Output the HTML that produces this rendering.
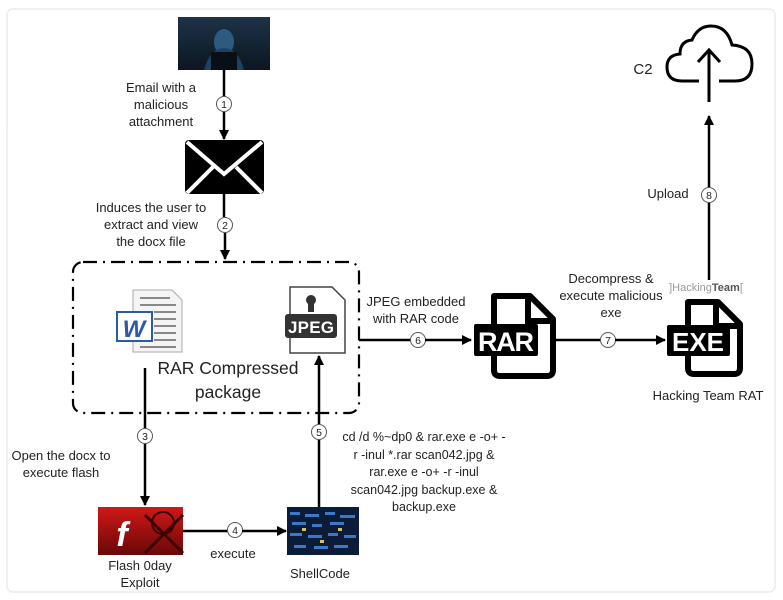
<!DOCTYPE html>
<html><head><meta charset="utf-8"><style>
html,body{margin:0;padding:0;background:#fff;}
svg{display:block;}
text{font-family:"Liberation Sans",sans-serif;fill:#222;}
</style></head><body>
<svg width="783" height="600" viewBox="0 0 783 600" xmlns="http://www.w3.org/2000/svg">
<defs>
<marker id="ah" markerWidth="10" markerHeight="10" refX="9" refY="5" orient="auto" markerUnits="userSpaceOnUse">
<path d="M0,0 L10,5 L0,10 z" fill="#000"/></marker>
<linearGradient id="hk" x1="0" y1="0" x2="0" y2="1"><stop offset="0" stop-color="#1d3348"/><stop offset="1" stop-color="#0b1620"/></linearGradient>
<linearGradient id="fl" x1="0" y1="0" x2="0" y2="1"><stop offset="0" stop-color="#d01818"/><stop offset="1" stop-color="#6a0808"/></linearGradient>
</defs>
<rect x="7" y="9" width="768" height="583" rx="6" fill="#fff" stroke="#ececec" stroke-width="1.5"/>

<!-- hacker -->
<rect x="178" y="17" width="92" height="53" fill="url(#hk)"/>
<ellipse cx="224" cy="42" rx="10" ry="13" fill="#2e5a80"/>
<path d="M204 70 Q210 48 224 48 Q238 48 244 70z" fill="#1e4264"/>
<rect x="211" y="52" width="26" height="18" fill="#0a0f14"/>

<line x1="224" y1="70" x2="224" y2="96" stroke="#000" stroke-width="2.5"/>
<circle cx="224" cy="104" r="7.5" fill="#fff" stroke="#555"/><text x="224" y="108" font-size="10.5" text-anchor="middle">1</text>
<line x1="224" y1="112" x2="224" y2="139" stroke="#000" stroke-width="2.5" marker-end="url(#ah)"/>
<text font-size="13" text-anchor="middle"><tspan x="161" y="92">Email with a</tspan><tspan x="161" y="109">malicious</tspan><tspan x="161" y="126">attachment</tspan></text>

<!-- envelope -->
<rect x="185" y="140" width="79" height="54" rx="4" fill="#000"/>
<path d="M187 142 L224 174 L262 142" fill="none" stroke="#fff" stroke-width="4"/>
<path d="M187 193 L213 167 M262 193 L236 167" stroke="#fff" stroke-width="4"/>

<line x1="224" y1="194" x2="224" y2="217" stroke="#000" stroke-width="2.5"/>
<circle cx="225" cy="225" r="7.5" fill="#fff" stroke="#555"/><text x="225" y="229" font-size="10.5" text-anchor="middle">2</text>
<line x1="225" y1="233" x2="225" y2="259" stroke="#000" stroke-width="2.5" marker-end="url(#ah)"/>
<text font-size="13" text-anchor="middle"><tspan x="151" y="212">Induces the user to</tspan><tspan x="151" y="229">extract and view</tspan><tspan x="151" y="246">the docx file</tspan></text>

<!-- dashed box -->
<rect x="73" y="262" width="286" height="151" rx="10" fill="none" stroke="#000" stroke-width="2.2" stroke-dasharray="14,6,2,6"/>

<!-- word -->
<path d="M133 290 L172 290 L182 300 L182 352 L133 352z" fill="#f4f4f4" stroke="#aaa"/>
<g stroke="#888" stroke-width="2"><line x1="140" y1="298" x2="170" y2="298"/><line x1="140" y1="305" x2="176" y2="305"/><line x1="154" y1="312" x2="176" y2="312"/><line x1="154" y1="319" x2="176" y2="319"/><line x1="154" y1="326" x2="176" y2="326"/><line x1="154" y1="333" x2="176" y2="333"/><line x1="154" y1="340" x2="176" y2="340"/><line x1="140" y1="347" x2="176" y2="347"/></g>
<rect x="117" y="312" width="35" height="29" fill="#fff" stroke="#2b5aa8" stroke-width="2"/>
<text x="134" y="337" font-size="24" font-weight="bold" font-style="italic" text-anchor="middle" style="fill:#2b5aa8">W</text>

<!-- jpeg -->
<path d="M290 287 L332 287 L345 300 L345 353 L290 353z" fill="#fff" stroke="#444" stroke-width="1.5"/>
<circle cx="311" cy="300" r="5" fill="#333"/><rect x="308" y="304" width="6" height="8" fill="#333"/>
<rect x="285" y="314" width="52" height="24" rx="3" fill="#333"/>
<text x="311" y="333" font-size="17" font-weight="bold" text-anchor="middle" style="fill:#fff" textLength="46">JPEG</text>

<text font-size="17.5" text-anchor="middle"><tspan x="228" y="374">RAR Compressed</tspan><tspan x="228" y="398">package</tspan></text>

<!-- 3 -->
<line x1="145" y1="368" x2="145" y2="428" stroke="#000" stroke-width="2.5"/>
<circle cx="145" cy="436" r="7.5" fill="#fff" stroke="#555"/><text x="145" y="440" font-size="10.5" text-anchor="middle">3</text>
<line x1="145" y1="444" x2="145" y2="505" stroke="#000" stroke-width="2.5" marker-end="url(#ah)"/>
<text font-size="13" text-anchor="middle"><tspan x="61" y="460">Open the docx to</tspan><tspan x="61" y="477">execute flash</tspan></text>

<!-- flash -->
<rect x="98" y="507" width="85" height="48" fill="url(#fl)"/>
<text x="122" y="546" font-size="34" font-style="italic" font-weight="bold" text-anchor="middle" style="fill:#fff">f</text>
<circle cx="163" cy="523" r="11" fill="none" stroke="#3a0000" stroke-width="2"/>
<path d="M145 515 L183 553 M183 515 L145 553" stroke="#3a0000" stroke-width="3"/>
<text font-size="13" text-anchor="middle"><tspan x="140" y="570">Flash 0day</tspan><tspan x="140" y="587">Exploit</tspan></text>

<!-- 4 -->
<line x1="183" y1="531" x2="228" y2="531" stroke="#000" stroke-width="2.5"/>
<circle cx="235" cy="530" r="7.5" fill="#fff" stroke="#555"/><text x="235" y="534" font-size="10.5" text-anchor="middle">4</text>
<line x1="242" y1="531" x2="286" y2="531" stroke="#000" stroke-width="2.5" marker-end="url(#ah)"/>
<text x="233" y="558" font-size="13" text-anchor="middle">execute</text>

<!-- shellcode -->
<rect x="287" y="507" width="72" height="48" fill="#0c1c38"/>
<g fill="#3a78c8"><rect x="290" y="512" width="10" height="3"/><rect x="305" y="514" width="14" height="3"/><rect x="325" y="512" width="10" height="3"/><rect x="340" y="515" width="15" height="3"/><rect x="292" y="522" width="14" height="3"/><rect x="312" y="524" width="10" height="3"/><rect x="330" y="522" width="14" height="3"/><rect x="290" y="533" width="12" height="3"/><rect x="308" y="535" width="14" height="3"/><rect x="328" y="533" width="10" height="3"/><rect x="344" y="535" width="12" height="3"/><rect x="294" y="545" width="12" height="3"/><rect x="314" y="546" width="14" height="3"/><rect x="334" y="545" width="14" height="3"/></g>
<g fill="#d8c060"><rect x="302" y="528" width="4" height="3"/><rect x="338" y="528" width="4" height="3"/><rect x="320" y="540" width="4" height="3"/></g>
<text x="320" y="578" font-size="13" text-anchor="middle">ShellCode</text>

<!-- 5 -->
<line x1="319" y1="507" x2="319" y2="440" stroke="#000" stroke-width="2.5"/>
<circle cx="319" cy="432" r="7.5" fill="#fff" stroke="#555"/><text x="319" y="436" font-size="10.5" text-anchor="middle">5</text>
<line x1="319" y1="424" x2="319" y2="356" stroke="#000" stroke-width="2.5" marker-end="url(#ah)"/>
<text font-size="12.5" text-anchor="middle"><tspan x="424" y="441">cd /d %~dp0 &amp; rar.exe e -o+ -</tspan><tspan x="424" y="459">r -inul *.rar scan042.jpg &amp;</tspan><tspan x="424" y="476">rar.exe e -o+ -r -inul</tspan><tspan x="424" y="494">scan042.jpg backup.exe &amp;</tspan><tspan x="424" y="511">backup.exe</tspan></text>

<!-- 6 -->
<line x1="359" y1="340" x2="411" y2="340" stroke="#000" stroke-width="2.5"/>
<circle cx="418" cy="340" r="7.5" fill="#fff" stroke="#555"/><text x="418" y="344" font-size="10.5" text-anchor="middle">6</text>
<line x1="425" y1="340" x2="471" y2="340" stroke="#000" stroke-width="2.5" marker-end="url(#ah)"/>
<text font-size="13" text-anchor="middle"><tspan x="416" y="306">JPEG embedded</tspan><tspan x="416" y="323">with RAR code</tspan></text>

<!-- RAR -->
<path d="M494 296 L530 296 L553 319 L553 370 Q553 376 547 376 L500 376 Q494 376 494 370z" fill="#fff" stroke="#000" stroke-width="6" stroke-linejoin="round"/>
<path d="M528 296 L528 321 L553 321" fill="none" stroke="#000" stroke-width="6"/>
<rect x="474" y="324" width="64" height="32" rx="2" fill="#000"/>
<text x="506" y="351" font-size="27" font-weight="bold" text-anchor="middle" style="fill:#fff" textLength="56">RAR</text>

<!-- 7 -->
<line x1="553" y1="340" x2="601" y2="340" stroke="#000" stroke-width="2.5"/>
<circle cx="608" cy="340" r="7.5" fill="#fff" stroke="#555"/><text x="608" y="344" font-size="10.5" text-anchor="middle">7</text>
<line x1="615" y1="340" x2="665" y2="340" stroke="#000" stroke-width="2.5" marker-end="url(#ah)"/>
<text font-size="13" text-anchor="middle"><tspan x="611" y="283">Decompress &amp;</tspan><tspan x="611" y="300">execute malicious</tspan><tspan x="611" y="317">exe</tspan></text>

<!-- EXE -->
<line x1="709" y1="291" x2="709" y2="203" stroke="#000" stroke-width="2.5"/>
<rect x="668" y="280" width="76" height="13" fill="#fff"/>
<text x="706" y="291" font-size="11" text-anchor="middle" style="fill:#999">]Hacking<tspan font-weight="bold" style="fill:#555">Team</tspan>[</text>
<path d="M688 302 L718 302 L740 324 L740 368 Q740 374 734 374 L694 374 Q688 374 688 368z" fill="#fff" stroke="#000" stroke-width="6" stroke-linejoin="round"/>
<path d="M716 302 L716 326 L740 326" fill="none" stroke="#000" stroke-width="6"/>
<rect x="667" y="325" width="63" height="31" rx="2" fill="#000"/>
<text x="698" y="351" font-size="26" font-weight="bold" text-anchor="middle" style="fill:#fff" textLength="52">EXE</text>
<text x="708" y="400" font-size="13" text-anchor="middle">Hacking Team RAT</text>

<!-- 8 -->
<circle cx="709" cy="195" r="7.5" fill="#fff" stroke="#555"/><text x="709" y="199" font-size="10.5" text-anchor="middle">8</text>
<line x1="709" y1="187" x2="709" y2="116" stroke="#000" stroke-width="2.5" marker-end="url(#ah)"/>
<text x="668" y="198" font-size="13" text-anchor="middle">Upload</text>

<!-- cloud -->
<path d="M699 81 L682 81 Q667 81 667 67 Q667 55 680 54 Q680 41 692 40 Q698 26 711 26 Q727 26 732 45 Q752 46 752 64 Q752 81 735 81 L719 81" fill="none" stroke="#000" stroke-width="3"/>
<line x1="709" y1="102" x2="709" y2="50" stroke="#000" stroke-width="3"/>
<path d="M698 62 L709 50 L720 62" fill="none" stroke="#000" stroke-width="3"/>
<text x="643" y="74" font-size="15" text-anchor="middle">C2</text>
</svg>
</body></html>
